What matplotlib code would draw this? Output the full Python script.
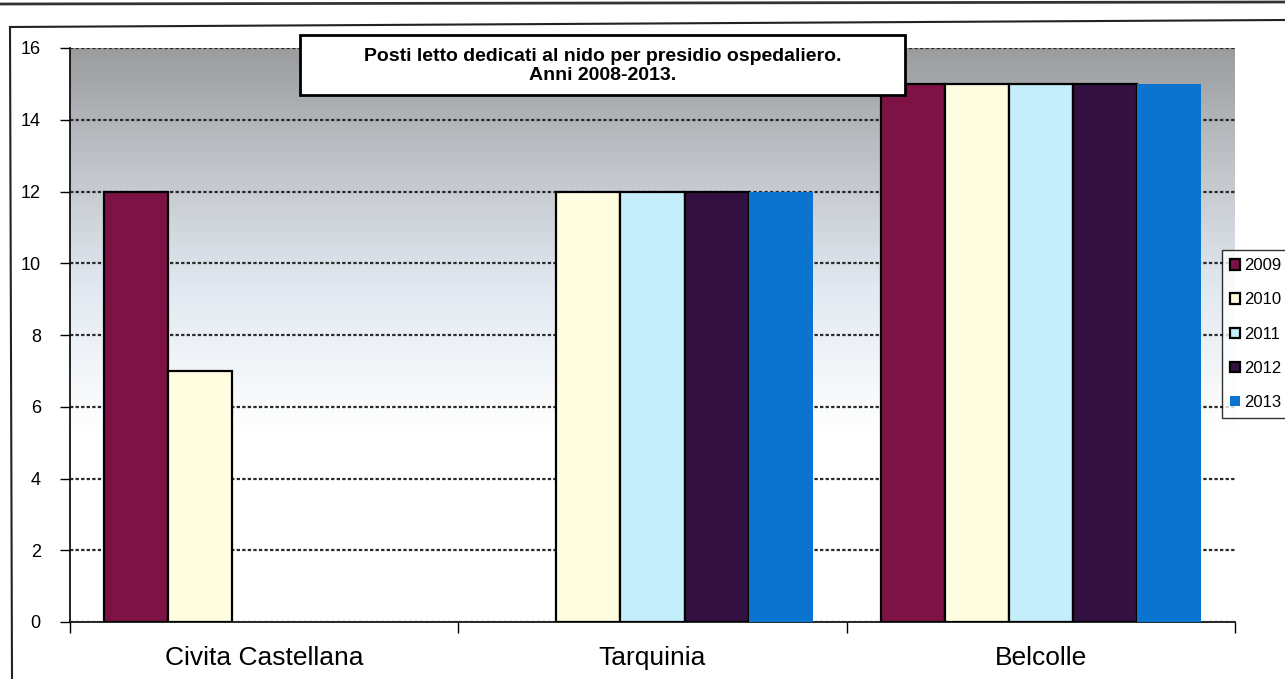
import numpy as np
import matplotlib
matplotlib.use("Agg")
import matplotlib.pyplot as plt
from matplotlib.colors import LinearSegmentedColormap
from matplotlib.patches import Rectangle
from matplotlib.lines import Line2D

plt.rcParams['font.family'] = ['Liberation Sans', 'DejaVu Sans']

# dati
presidi = ['Civita Castellana', 'Tarquinia', 'Belcolle']
anni = ['2009', '2010', '2011', '2012', '2013']
posti_2009 = [12, 0, 15]
posti_2010 = [7, 12, 15]
posti_2011 = [0, 12, 15]
posti_2012 = [0, 12, 15]
posti_2013 = [0, 12, 15]
serie = [posti_2009, posti_2010, posti_2011, posti_2012, posti_2013]
colori = ['#7d1245', '#fffde0', '#c4eefa', '#32103f', '#0b74cf']
bordi = ['black', 'black', 'black', 'black', 'none']

fig = plt.figure(figsize=(12.85, 6.79), dpi=100)
ax = fig.add_axes([70/1285, 1-622/679, 1165/1285, 574/679])

# sfondo sfumato (grigio in alto, bianco in basso)
cmap = LinearSegmentedColormap.from_list('sfondo', [
    (0.0, '#ffffff'), (0.33, '#ffffff'), (0.58, '#e2e9f1'),
    (0.78, '#c3c7cc'), (1.0, '#9a9c9e')])
grad = np.linspace(0, 1, 256).reshape(-1, 1)
ax.imshow(grad, extent=[0, 3, 0, 16], origin='lower', aspect='auto',
          cmap=cmap, zorder=0)

x = np.arange(len(presidi)) + 0.5
w = 0.165
for j, (vals, col, ec) in enumerate(zip(serie, colori, bordi)):
    v = np.array(vals, dtype=float)
    v[v == 0] = np.nan
    ax.bar(x + (j - 2) * w, v, width=w, color=col, edgecolor=ec,
           linewidth=1.6, label=anni[j], zorder=3)

ax.set_xlim(0, 3)
ax.set_ylim(0, 16)
ax.set_yticks(range(0, 17, 2))
ax.yaxis.grid(True, color='#2a2a2a', linestyle=(0, (1.5, 1)), linewidth=1.6, zorder=1)
ax.set_axisbelow(False)
ax.tick_params(axis='y', labelsize=13, length=7, width=1, pad=14)

ax.set_xticks([0, 1, 2, 3])
ax.set_xticklabels([])
ax.tick_params(axis='x', which='major', length=8, width=1, direction='out')
ax.set_xticks(x, minor=True)
ax.set_xticklabels(presidi, minor=True, fontsize=19)
ax.tick_params(axis='x', which='minor', length=0, pad=17)

for s in ['top', 'right']:
    ax.spines[s].set_visible(False)
ax.spines['left'].set_linewidth(1.2)
ax.spines['bottom'].set_linewidth(1.2)

# riquadro del titolo
fig.add_artist(Rectangle((300/1285, 1-95/679), 605/1285, 60/679,
                         transform=fig.transFigure, facecolor='white',
                         edgecolor='black', linewidth=2, zorder=5))
fig.text(603/1285, 1-66/679,
         'Posti letto dedicati al nido per presidio ospedaliero.\nAnni 2008-2013.',
         ha='center', va='center', fontsize=14, fontweight='bold',
         linespacing=1.1, zorder=6)

# legenda (nell'originale esce dal bordo destro)
leg = fig.legend(loc='upper left', bbox_to_anchor=(1222/1285, 1-250/679),
                 fontsize=12, frameon=True, fancybox=False, edgecolor='black',
                 handlelength=0.6, handleheight=0.6, handletextpad=0.25,
                 labelspacing=1.15, borderpad=0.5, borderaxespad=0)
leg.get_frame().set_linewidth(1)

# cornici della pagina scansionata
fig.add_artist(Line2D([0, 1], [1-4/679, 1-2/679], color='#333333', lw=2))
fig.add_artist(Line2D([10/1285, 1], [1-27/679, 1-20/679], color='#222222', lw=1.5))
fig.add_artist(Line2D([10/1285, 12/1285], [1-27/679, 0], color='#222222', lw=1.5))

fig.savefig('out.png', dpi=100)
